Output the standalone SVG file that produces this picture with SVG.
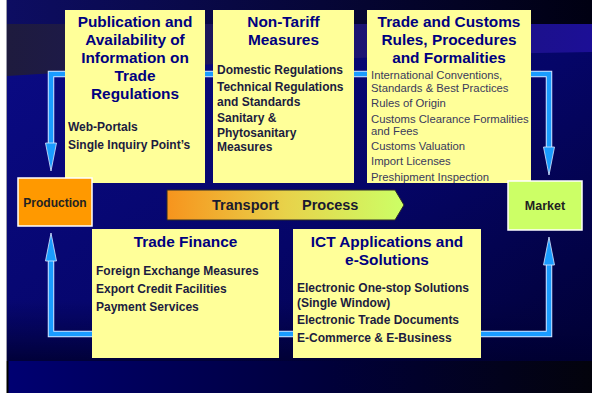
<svg xmlns="http://www.w3.org/2000/svg" width="592" height="394" viewBox="0 0 592 394">
<defs>
<linearGradient id="bgMain" x1="0" y1="0" x2="1" y2="1">
<stop offset="0" stop-color="#0b0b88"/>
<stop offset="0.55" stop-color="#050568"/>
<stop offset="1" stop-color="#00002e"/>
</linearGradient>
<linearGradient id="bgTop" x1="0" y1="0" x2="1" y2="0">
<stop offset="0" stop-color="#0d0d62"/>
<stop offset="1" stop-color="#000012"/>
</linearGradient>
<linearGradient id="bgBand" x1="0" y1="0" x2="1" y2="0">
<stop offset="0" stop-color="#1e1b3e"/>
<stop offset="0.4" stop-color="#1b1660"/>
<stop offset="1" stop-color="#1c0f96"/>
</linearGradient>
<linearGradient id="bgLow" x1="0" y1="0" x2="0" y2="1">
<stop offset="0" stop-color="#000040" stop-opacity="0"/>
<stop offset="1" stop-color="#000030" stop-opacity="0.85"/>
</linearGradient>
<linearGradient id="bgBottom" x1="0" y1="0" x2="1" y2="0">
<stop offset="0" stop-color="#000072"/>
<stop offset="0.55" stop-color="#00003a"/>
<stop offset="1" stop-color="#03030c"/>
</linearGradient>
<linearGradient id="transGrad" x1="0" y1="0" x2="1" y2="0">
<stop offset="0" stop-color="#f7941d"/>
<stop offset="0.5" stop-color="#e8d24a"/>
<stop offset="1" stop-color="#ccff66"/>
</linearGradient>
<marker id="head" markerUnits="userSpaceOnUse" markerWidth="30" markerHeight="14" refX="0" refY="7" orient="auto-start-reverse" overflow="visible">
<path d="M0,1.5 L28,7 L0,12.5 Z" fill="#1a9cff" stroke="#dce8ff" stroke-width="0.8"/>
</marker>
<style>
.box{fill:#ffff99;}
.title{font-family:"Liberation Sans",Arial,sans-serif;font-weight:bold;font-size:15.4px;fill:#000080;text-anchor:middle;}
.item{font-family:"Liberation Sans",Arial,sans-serif;font-weight:bold;font-size:12px;fill:#1c1c40;}
.item2{font-family:"Liberation Sans",Arial,sans-serif;font-size:11.3px;fill:#3a3a5c;}
.end{stroke:#ffffff;stroke-width:1.5;}
.endlbl{font-family:"Liberation Sans",Arial,sans-serif;font-weight:bold;font-size:12px;fill:#222222;text-anchor:middle;}
.lineOut{fill:none;stroke:#d4e2ff;stroke-width:6.5;}
.lineIn{fill:none;stroke:#1a9cff;stroke-width:4.5;}
</style>
</defs>

<g id="background">
<rect x="0" y="0" width="592" height="394" fill="#ffffff"/>
<rect x="7" y="0" width="585" height="393" fill="url(#bgMain)"/>
<rect x="7" y="0" width="585" height="24" fill="url(#bgTop)"/>
<path d="M7,24 H592 V52 Q300,56 7,76 Z" fill="url(#bgBand)"/>
<rect x="7" y="300" width="585" height="61" fill="url(#bgLow)"/>
<rect x="7" y="361" width="585" height="32" fill="url(#bgBottom)"/>
<line x1="6.5" y1="0" x2="6.5" y2="361" stroke="#9a9aaa" stroke-width="1"/>
<line x1="7.5" y1="361" x2="7.5" y2="393" stroke="#000000" stroke-width="2"/>
</g>

<g id="connectors">
<path class="lineOut" d="M51,143 V74 H549 V147"/>
<path class="lineIn" d="M51,143 V74 H549 V147" marker-start="url(#head)" marker-end="url(#head)"/>
<path class="lineOut" d="M51,261 V334 H549 V265"/>
<path class="lineIn" d="M51,261 V334 H549 V265" marker-start="url(#head)" marker-end="url(#head)"/>
</g>

<g id="publication">
<rect class="box" x="65" y="10" width="140" height="173"/>
<text class="title" x="135" y="27">Publication and</text>
<text class="title" x="135" y="45">Availability of</text>
<text class="title" x="135" y="63">Information on</text>
<text class="title" x="135" y="81">Trade</text>
<text class="title" x="135" y="99">Regulations</text>
<text class="item" x="68" y="131">Web-Portals</text>
<text class="item" x="68" y="148.5">Single Inquiry Point’s</text>
</g>

<g id="non-tariff">
<rect class="box" x="213" y="10" width="141" height="173"/>
<text class="title" x="283.5" y="27">Non-Tariff</text>
<text class="title" x="283.5" y="45">Measures</text>
<text class="item" x="217" y="73.5">Domestic Regulations</text>
<text class="item" x="217" y="90.7">Technical Regulations</text>
<text class="item" x="217" y="105.5">and Standards</text>
<text class="item" x="217" y="122.3">Sanitary &amp;</text>
<text class="item" x="217" y="136.7">Phytosanitary</text>
<text class="item" x="217" y="150.7">Measures</text>
</g>

<g id="customs">
<rect class="box" x="367" y="10" width="164" height="173"/>
<text class="title" x="449" y="27">Trade and Customs</text>
<text class="title" x="449" y="45">Rules, Procedures</text>
<text class="title" x="449" y="63">and Formalities</text>
<text class="item2" x="371" y="79">International Conventions,</text>
<text class="item2" x="371" y="91.5">Standards &amp; Best Practices</text>
<text class="item2" x="371" y="106.5">Rules of Origin</text>
<text class="item2" x="371" y="122.5">Customs Clearance Formalities</text>
<text class="item2" x="371" y="134.5">and Fees</text>
<text class="item2" x="371" y="150">Customs Valuation</text>
<text class="item2" x="371" y="165">Import Licenses</text>
<text class="item2" x="371" y="180.5">Preshipment Inspection</text>
</g>

<g id="production">
<rect class="end" x="18" y="178" width="74" height="48" fill="#ff9900"/>
<text class="endlbl" x="55" y="206.5">Production</text>
</g>

<g id="market">
<rect class="end" x="508" y="181" width="74" height="49" fill="#ccff66"/>
<text class="endlbl" x="545" y="210" style="font-size:12.5px">Market</text>
</g>

<g id="transport">
<path d="M167,190 H395 L404,205 L395,220 H167 Z" fill="url(#transGrad)" stroke="#2a2a2a" stroke-width="1"/>
<text style="font-family:'Liberation Sans',Arial,sans-serif;font-weight:bold;font-size:14.5px;fill:#1a1a30"><tspan x="212" y="209.5">Transport</tspan><tspan x="302" y="209.5">Process</tspan></text>
</g>

<g id="trade-finance">
<rect class="box" x="92" y="229" width="187" height="129"/>
<text class="title" x="185.5" y="246.5">Trade Finance</text>
<text class="item" x="96" y="275">Foreign Exchange Measures</text>
<text class="item" x="96" y="293">Export Credit Facilities</text>
<text class="item" x="96" y="310.7">Payment Services</text>
</g>

<g id="ict">
<rect class="box" x="293" y="229" width="188" height="129"/>
<text class="title" x="387" y="246.5">ICT Applications and</text>
<text class="title" x="387" y="264.5">e-Solutions</text>
<text class="item" x="297" y="292.3">Electronic One-stop Solutions</text>
<text class="item" x="297" y="306.5">(Single Window)</text>
<text class="item" x="297" y="324">Electronic Trade Documents</text>
<text class="item" x="297" y="342">E-Commerce &amp; E-Business</text>
</g>
</svg>
